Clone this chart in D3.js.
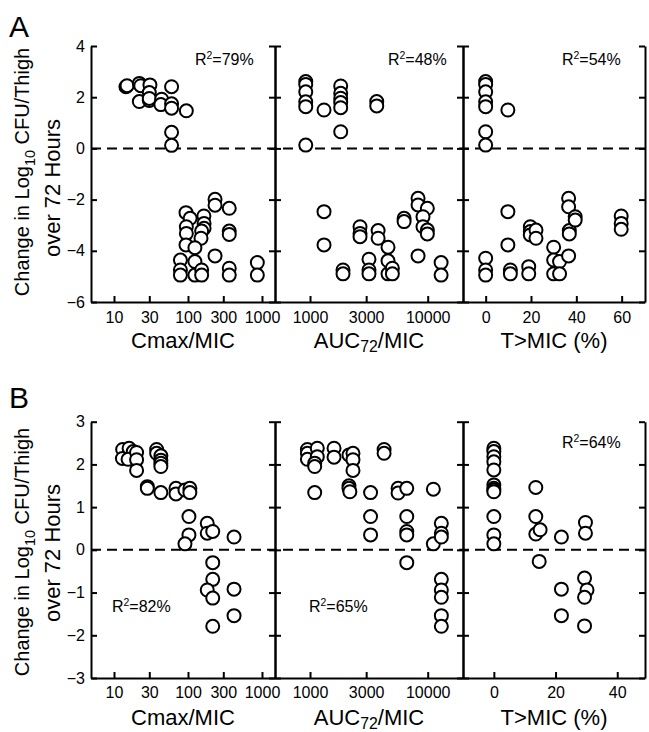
<!DOCTYPE html>
<html>
<head>
<meta charset="utf-8">
<script src="https://cdn.jsdelivr.net/npm/d3@7"></script>
<style>
  body { margin: 0; background: #fff; }
  svg text { font-family: "Liberation Sans", Arial, sans-serif; fill: #000; }
</style>
</head>
<body>
<script>
// ---- tick values ----
var yTicksA = [-6, -4, -2, 0, 2, 4];
var yTicksB = [-3, -2, -1, 0, 1, 2, 3];
var cmaxTicks = [10, 30, 100, 300, 1000];
var aucTicks = [1000, 3000, 10000];
var tmicTicksA = [0, 20, 40, 60];
var tmicTicksB = [0, 20, 40];

// ---- panel A data (x value, change in log10 CFU) ----
var aCmaxX = [14.5, 15, 22, 23, 30.6, 30, 22, 30, 30, 44, 43, 60, 60, 60, 95, 60, 60,
  232, 232, 361, 94, 107, 164, 165, 165, 95, 95, 153, 150, 361, 361, 94, 124, 232, 79, 124,
  79, 79, 124, 153, 153, 361, 361, 865, 865];
var aCmaxY = [2.41, 2.45, 2.54, 2.45, 2.48, 2.18, 1.83, 1.87, 1.95, 1.92, 1.71, 2.41, 1.74, 1.57, 1.47, 0.63, 0.12,
  -1.99, -2.22, -2.34, -2.51, -2.73, -2.64, -2.93, -3.12, -3.06, -3.32, -3.23, -3.51, -3.23, -3.36, -3.77, -3.88, -4.2, -4.36, -4.42,
  -4.75, -4.95, -4.95, -4.75, -4.95, -4.68, -4.95, -4.46, -4.95];

var aAucX = [920, 920, 920, 920, 920, 920, 1315, 1823, 1823, 1823, 1823, 1823, 1823, 3690, 3690,
  1315, 1315, 1907, 1907, 2660, 2660, 2660, 3170, 3170, 3170, 3790, 3790, 4600, 4600, 4600, 5010, 5010,
  6300, 6300, 8280, 8280, 9930, 9120, 9120, 9930, 9930, 8280, 13000, 13000];
var aAucY = [2.61, 2.5, 2.21, 1.82, 1.63, 0.13, 1.5, 2.44, 2.15, 1.96, 1.79, 1.59, 0.65, 1.83, 1.66,
  -2.47, -3.77, -4.75, -4.9, -3.06, -3.32, -3.45, -4.33, -4.75, -4.9, -3.21, -3.51, -3.86, -4.39, -4.9, -4.68, -4.9,
  -2.73, -2.86, -1.95, -2.21, -2.34, -2.67, -3.06, -3.19, -3.34, -4.2, -4.46, -4.95];

var aTmicX = [0, 0, 0, 0, 0, 0, 0, 9.8,
  0, 0, 0, 9.8, 9.8, 10.9, 10.9, 19, 19, 19.7, 19.7, 19.7, 22.2, 22.2, 30, 30, 30, 32.6, 32.6,
  36.6, 36.6, 36.9, 36.9, 36.6, 39.5, 39.5, 59.8, 59.8, 59.8];
var aTmicY = [2.61, 2.5, 2.21, 1.82, 1.63, 0.65, 0.13, 1.5,
  -4.29, -4.75, -4.95, -2.47, -3.77, -4.75, -4.9, -4.62, -4.9, -3.06, -3.25, -3.38, -3.19, -3.51, -3.86, -4.36, -4.9, -4.42, -4.9,
  -1.95, -2.28, -3.21, -3.34, -4.2, -2.67, -2.8, -2.64, -2.93, -3.16];

// ---- panel B data ----
var bCmaxX = [13.1, 13, 16, 18.2, 15.5, 20.2, 20.2, 20.2, 28.2, 28.2, 37.7, 37.7, 43, 43, 43, 43, 43,
  68.8, 68.8, 91, 106, 106, 103, 103, 91, 182, 182, 216, 216, 216, 182, 216, 216, 419, 419, 419];
var bCmaxY = [2.35, 2.14, 2.38, 2.3, 2.12, 2.28, 2.11, 1.86, 1.48, 1.44, 2.35, 2.26, 2.2, 2.1, 2.03, 1.95, 1.34,
  1.44, 1.31, 1.4, 1.44, 1.34, 0.78, 0.35, 0.14, 0.62, 0.39, 0.43, -0.3, -0.69, -0.94, -1.13, -1.79, 0.3, -0.92, -1.54];

var bAucX = [950, 950, 950, 1153, 1153, 1096, 1096, 1096, 1600, 1600, 2143, 2318, 2318, 2318, 2143, 2143, 2180,
  3270, 3270, 3270, 4260, 4260, 5600, 5600, 6640, 6640, 6640, 6640, 6640, 11170, 11170,
  13060, 13060, 13060, 13060, 13060, 13060, 13060, 13060];
var bAucY = [2.35, 2.26, 2.12, 2.38, 2.18, 2.03, 1.95, 1.34, 2.38, 2.17, 2.22, 2.26, 2.11, 1.86, 1.5, 1.44, 1.36,
  1.34, 0.78, 0.35, 2.35, 2.26, 1.44, 1.33, 1.44, 0.78, 0.43, 0.35, -0.3, 1.42, 0.14,
  0.62, 0.39, 0.3, -0.69, -0.94, -1.11, -1.54, -1.79];

var bTmicX = [0, 0, 0, 0, 0, 0, 0, 0, 0, 0, 0, 0, 13.6, 13.6, 13.6, 15, 14.7,
  21.9, 21.9, 21.9, 29.7, 29.7, 29.4, 30.2, 29.4, 29.4];
var bTmicY = [2.38, 2.3, 2.18, 2.06, 1.87, 1.52, 1.44, 1.4, 1.36, 0.78, 0.35, 0.14, 1.46, 0.78, 0.37, 0.47, -0.27,
  0.3, -0.92, -1.54, 0.64, 0.39, -0.66, -0.94, -1.11, -1.78];

var r2A = ["79%", "48%", "54%"];
var r2B = ["82%", "65%", "64%"];

var svg = d3.select("body").append("svg")
  .attr("width", 649)
  .attr("height", 732);

function addSub(sel, base, sub, rest, dy) {
  // base text + subscript + rest
  sel.append("tspan").text(base);
  sel.append("tspan").text(sub).attr("font-size", "0.72em").attr("dy", dy);
  sel.append("tspan").text(rest).attr("dy", -dy);
}

function drawPanel(p) {
  var y = d3.scaleLinear().domain(p.yDomain).range([p.bottom, p.top]);

  // zero line
  svg.append("line")
    .attr("x1", p.subs[0].left).attr("x2", p.subs[2].right)
    .attr("y1", y(0)).attr("y2", y(0))
    .attr("stroke", "#000").attr("stroke-width", 2)
    .attr("stroke-dasharray", "10,6");

  p.subs.forEach(function(s, i) {
    var x = (s.log ? d3.scaleLog() : d3.scaleLinear()).domain(s.domain).range([s.left, s.right]);

    var xa = svg.append("g")
      .attr("transform", "translate(0," + p.bottom + ")")
      .call(d3.axisBottom(x).tickValues(s.ticks).tickFormat(d3.format("d"))
        .tickSizeInner(-6).tickSizeOuter(0).tickPadding(p.xPad));

    var la = d3.axisLeft(y).tickValues(p.yTicks).tickFormat(d3.format("d"))
      .tickSizeInner(-6).tickSizeOuter(0).tickPadding(6);
    if (i > 0) la.tickFormat("");
    var ya = svg.append("g").attr("transform", "translate(" + s.left + ",0)").call(la);

    var ra = svg.append("g").attr("transform", "translate(" + s.right + ",0)")
      .call(d3.axisLeft(y).tickValues(p.yTicks).tickSize(6).tickSizeOuter(0).tickFormat(""));

    [xa, ya, ra].forEach(function(g) {
      g.selectAll("path, line").attr("stroke-width", 2);
      g.selectAll("text").style("font-size", "16px");
    });

    svg.append("g").selectAll("circle")
      .data(s.xs)
      .enter()
      .append("circle")
      .attr("cx", function(d) { return x(d); })
      .attr("cy", function(d, j) { return y(s.ys[j]); })
      .attr("r", 6.5)
      .attr("fill", "#fff")
      .attr("stroke", "#000")
      .attr("stroke-width", 2);

    // R squared
    var rt = svg.append("text")
      .attr("x", s.r2x).attr("y", s.r2y)
      .style("font-size", "16px");
    rt.append("tspan").text("R");
    rt.append("tspan").text("2").attr("font-size", "0.65em").attr("dy", -6);
    rt.append("tspan").text("=" + s.r2).attr("dy", 6);

    // x title
    var xt = svg.append("text")
      .attr("x", (s.left + s.right) / 2)
      .attr("y", p.bottom + p.titleOff)
      .attr("text-anchor", "middle")
      .style("font-size", "22px");
    if (s.title[1]) addSub(xt, s.title[0], s.title[1], s.title[2], 4);
    else xt.text(s.title[0]);
  });

  // y title
  var t1 = svg.append("text")
    .attr("transform", "translate(29," + p.yl1 + ") rotate(-90)")
    .attr("text-anchor", "middle")
    .style("font-size", "20px");
  addSub(t1, "Change in Log", "10", " CFU/Thigh", 6);
  svg.append("text")
    .attr("transform", "translate(60," + p.yl2 + ") rotate(-90)")
    .attr("text-anchor", "middle")
    .style("font-size", "22px")
    .text("over 72 Hours");

  svg.append("text")
    .attr("x", 9).attr("y", p.letterY)
    .style("font-size", "30px")
    .text(p.letter);
}

drawPanel({
  letter: "A", letterY: 37,
  top: 46, bottom: 302, yDomain: [-6, 4], yTicks: yTicksA,
  xPad: 10, titleOff: 46, yl1: 172, yl2: 188,
  subs: [
    { left: 91, right: 275, log: true, domain: [4.89, 1499], ticks: cmaxTicks, xs: aCmaxX, ys: aCmaxY,
      r2: r2A[0], r2x: 195, r2y: 65, title: ["Cmax/MIC"] },
    { left: 275, right: 463, log: true, domain: [504, 19950], ticks: aucTicks, xs: aAucX, ys: aAucY,
      r2: r2A[1], r2x: 388, r2y: 65, title: ["AUC", "72", "/MIC"] },
    { left: 463, right: 645, log: false, domain: [-10, 70.3], ticks: tmicTicksA, xs: aTmicX, ys: aTmicY,
      r2: r2A[2], r2x: 562, r2y: 65, title: ["T>MIC (%)"] }
  ]
});

drawPanel({
  letter: "B", letterY: 408,
  top: 421.7, bottom: 678, yDomain: [-3, 3], yTicks: yTicksB,
  xPad: 9, titleOff: 47, yl1: 552, yl2: 553,
  subs: [
    { left: 91, right: 275, log: true, domain: [4.89, 1499], ticks: cmaxTicks, xs: bCmaxX, ys: bCmaxY,
      r2: r2B[0], r2x: 112, r2y: 612, title: ["Cmax/MIC"] },
    { left: 275, right: 463, log: true, domain: [504, 19950], ticks: aucTicks, xs: bAucX, ys: bAucY,
      r2: r2B[1], r2x: 309, r2y: 612, title: ["AUC", "72", "/MIC"] },
    { left: 463, right: 645, log: false, domain: [-10, 49], ticks: tmicTicksB, xs: bTmicX, ys: bTmicY,
      r2: r2B[2], r2x: 562, r2y: 448, title: ["T>MIC (%)"] }
  ]
});
</script>
</body>
</html>
